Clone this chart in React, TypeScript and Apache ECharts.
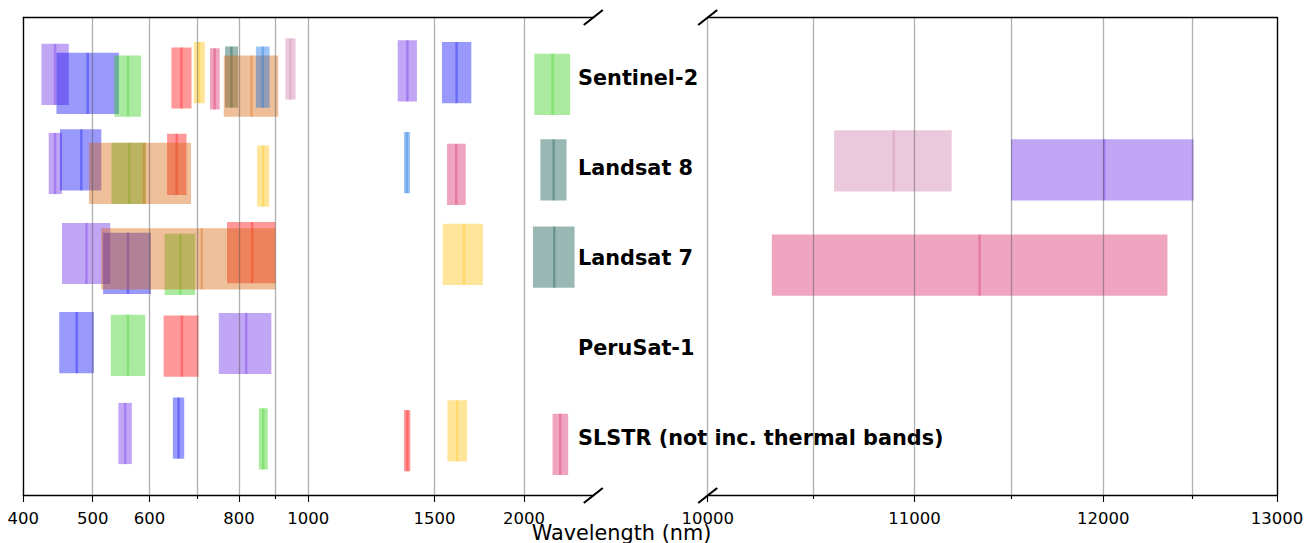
import React, { useEffect, useRef } from "react";
import * as echarts from "echarts";

// Row names (top to bottom)
const SATELLITES = ["Sentinel-2", "Landsat 8", "Landsat 7", "PeruSat-1", "SLSTR (not inc. thermal bands)"];
const ROW_POSITIONS = [0, 1, 2, 3, 4];

// Each band: [lower wavelength nm, upper wavelength nm, centre wavelength nm, vertical position (row units)]
const SENTINEL2 = [
  [424, 463, 443, -0.04],
  [445, 544, 492, 0.06],
  [536, 584, 560, 0.09],
  [644, 687, 665, 0.0],
  [692, 717, 704, -0.06],
  [729, 752, 740, 0.01],
  [765, 798, 781, -0.01],
  [762, 908, 833, 0.09],
  [845, 883, 864, -0.01],
  [929, 960, 944, -0.1],
  [1333, 1418, 1375, -0.08],
  [1537, 1689, 1611, -0.06],
  [2068, 2321, 2193, 0.07],
];
const SENTINEL2_COLORS = [0, 1, 2, 3, 4, 5, 6, 7, 8, 9, 0, 1, 2];

const LANDSAT8 = [
  [434, 453, 443, 0.95],
  [450, 514, 482, 0.91],
  [531, 593, 562, 1.06],
  [635, 676, 655, 0.96],
  [848, 882, 865, 1.09],
  [1562, 1659, 1609, 1.07],
  [2109, 2294, 2201, 1.02],
  [494, 686, 590, 1.06],
  [1360, 1387, 1373, 0.94],
];
const LANDSAT8_COLORS = [0, 1, 2, 3, 4, 5, 6, 7, 8];
const LANDSAT8_THERMAL = [
  [10600, 11190, 10895, 0.92],
  [11500, 12510, 12005, 1.02],
];
const LANDSAT8_THERMAL_COLORS = [9, 0];

const LANDSAT7 = [
  [453, 529, 490, 1.95],
  [517, 603, 560, 2.06],
  [630, 695, 663, 2.07],
  [770, 900, 835, 1.94],
  [1541, 1753, 1650, 1.96],
  [2059, 2354, 2205, 1.99],
  [514, 900, 710, 2.01],
];
const LANDSAT7_COLORS = [0, 1, 2, 3, 4, 6, 7];
const LANDSAT7_THERMAL = [[10300, 12360, 11335, 2.08]];
const LANDSAT7_THERMAL_COLORS = [5];

const PERUSAT1 = [
  [449, 502, 475, 2.94],
  [530, 592, 560, 2.97],
  [628, 703, 666, 2.98],
  [750, 888, 819, 2.95],
];
const PERUSAT1_COLORS = [1, 2, 3, 0];

const SLSTR = [
  [543, 567, 555, 3.95],
  [647, 671, 659, 3.89],
  [853, 878, 865, 4.01],
  [1360, 1388, 1375, 4.03],
  [1564, 1666, 1613, 3.92],
  [2193, 2306, 2248, 4.07],
];
const SLSTR_COLORS = [0, 1, 2, 3, 4, 5];

// Axes
const LEFT_RANGE = [400, 2500];
const RIGHT_RANGE = [10000, 13000];
const LEFT_MAJOR_TICKS = [400, 500, 600, 800, 1000, 1500, 2000];
const LEFT_MINOR_TICKS = [700, 900];
const RIGHT_MAJOR_TICKS = [10000, 11000, 12000, 13000];
const RIGHT_MINOR_TICKS = [10500, 11500, 12500];
const Y_RANGE = [-0.672, 4.639];
const LABEL_WAVELENGTH = 2380;

// Styles
const PALETTE = [
  "#6420e6", "#0000f5", "#2dcd0f", "#ff0000", "#ffbf00",
  "#d81b60", "#004d40", "#d55e00", "#0a6ee1", "#cc79a7",
];
const BAND_HEIGHT = 0.68;
const FONT = "DejaVu Sans";
const GRID_COLOR = "rgba(80,80,80,0.45)";

function withColors(bands: number[][], colors: number[]) {
  return bands.map((b, i) => [b[0], b[1], b[2], b[3], colors[i]]);
}

const LEFT_DATA = [
  ...withColors(SENTINEL2, SENTINEL2_COLORS),
  ...withColors(LANDSAT8, LANDSAT8_COLORS),
  ...withColors(LANDSAT7, LANDSAT7_COLORS),
  ...withColors(PERUSAT1, PERUSAT1_COLORS),
  ...withColors(SLSTR, SLSTR_COLORS),
];
const RIGHT_DATA = [
  ...withColors(LANDSAT8_THERMAL, LANDSAT8_THERMAL_COLORS),
  ...withColors(LANDSAT7_THERMAL, LANDSAT7_THERMAL_COLORS),
];

function renderBand(params: any, api: any) {
  const lo = api.value(0);
  const hi = api.value(1);
  const c = api.value(2);
  const y = api.value(3);
  const col = PALETTE[api.value(4)];
  const p0 = api.coord([lo, y - BAND_HEIGHT / 2]);
  const p1 = api.coord([hi, y + BAND_HEIGHT / 2]);
  const c0 = api.coord([c, y - BAND_HEIGHT / 2]);
  const c1 = api.coord([c, y + BAND_HEIGHT / 2]);
  return {
    type: "group",
    children: [
      {
        type: "rect",
        shape: {
          x: Math.min(p0[0], p1[0]),
          y: Math.min(p0[1], p1[1]),
          width: Math.abs(p1[0] - p0[0]),
          height: Math.abs(p1[1] - p0[1]),
        },
        style: { fill: col, opacity: 0.4 },
      },
      {
        type: "line",
        shape: { x1: c0[0], y1: c0[1], x2: c1[0], y2: c1[1] },
        style: { stroke: col, lineWidth: 2.5, opacity: 0.3 },
      },
    ],
  };
}

function renderRowLabel(params: any, api: any) {
  const p = api.coord([api.value(0), api.value(1)]);
  return {
    type: "text",
    x: p[0],
    y: p[1],
    style: {
      text: SATELLITES[params.dataIndex],
      fill: "#000",
      font: `bold 20.8px "${FONT}"`,
      align: "left",
      verticalAlign: "middle",
    },
  };
}

function bottomMajorAxis(gridIndex: number, range: number[], ticks: number[]) {
  return {
    gridIndex,
    type: "log",
    logBase: 10,
    min: range[0],
    max: range[1],
    position: "bottom",
    z: 10,
    axisLine: { show: true, onZero: false, lineStyle: { color: "#000", width: 1.3 } },
    axisTick: { show: true, customValues: ticks, length: 6.5, lineStyle: { color: "#000", width: 1.1 } },
    axisLabel: {
      show: true,
      customValues: ticks,
      formatter: (v: number) => String(Math.round(v)),
      fontFamily: FONT,
      fontSize: 16.5,
      color: "#000",
      margin: 14,
      showMinLabel: true,
      showMaxLabel: true,
    },
    splitLine: { show: true, lineStyle: { color: GRID_COLOR, width: 1.3 } },
    minorTick: { show: false },
    minorSplitLine: { show: false },
  };
}

function bottomMinorAxis(gridIndex: number, range: number[], ticks: number[]) {
  return {
    gridIndex,
    type: "log",
    logBase: 10,
    min: range[0],
    max: range[1],
    position: "bottom",
    z: 10,
    axisLine: { show: false, onZero: false },
    axisTick: { show: true, customValues: ticks, length: 3.5, lineStyle: { color: "#000", width: 1.1 } },
    axisLabel: { show: false, customValues: ticks },
    splitLine: { show: true, lineStyle: { color: GRID_COLOR, width: 1.3 } },
    minorTick: { show: false },
    minorSplitLine: { show: false },
  };
}

function topAxis(gridIndex: number) {
  return {
    gridIndex,
    type: "value",
    min: 0,
    max: 1,
    position: "top",
    z: 10,
    axisLine: { show: true, onZero: false, lineStyle: { color: "#000", width: 1.3 } },
    axisTick: { show: false },
    axisLabel: { show: false },
    splitLine: { show: false },
  };
}

function sideAxis(gridIndex: number, position: string) {
  return {
    gridIndex,
    type: "value",
    min: Y_RANGE[0],
    max: Y_RANGE[1],
    inverse: true,
    position,
    z: 10,
    axisLine: { show: true, onZero: false, lineStyle: { color: "#000", width: 1.3 } },
    axisTick: { show: false },
    axisLabel: { show: false },
    splitLine: { show: false },
  };
}

function breakMark(cx: number, cy: number) {
  return {
    type: "line",
    z: 100,
    shape: { x1: cx - 9.5, y1: cy + 7.5, x2: cx + 9.5, y2: cy - 7.5 },
    style: { stroke: "#000", lineWidth: 2.2 },
  };
}

export default function App() {
  const ref = useRef<HTMLDivElement>(null);

  useEffect(() => {
    if (!ref.current) return;
    const chart = echarts.init(ref.current, null, { renderer: "svg" });
    const option: any = {
      animation: false,
      backgroundColor: "#fff",
      textStyle: { fontFamily: FONT },
      grid: [
        { left: 23.3, top: 17.5, width: 570, height: 478, outerBoundsMode: "none", containLabel: false },
        { left: 707.7, top: 17.5, width: 569.3, height: 478, outerBoundsMode: "none", containLabel: false },
      ],
      xAxis: [
        bottomMajorAxis(0, LEFT_RANGE, LEFT_MAJOR_TICKS),
        bottomMinorAxis(0, LEFT_RANGE, LEFT_MINOR_TICKS),
        topAxis(0),
        bottomMajorAxis(1, RIGHT_RANGE, RIGHT_MAJOR_TICKS),
        bottomMinorAxis(1, RIGHT_RANGE, RIGHT_MINOR_TICKS),
        topAxis(1),
      ],
      yAxis: [sideAxis(0, "left"), sideAxis(1, "right")],
      series: [
        {
          type: "custom",
          xAxisIndex: 0,
          yAxisIndex: 0,
          renderItem: renderBand,
          encode: { x: [0, 1, 2], y: 3 },
          data: LEFT_DATA,
          silent: true,
        },
        {
          type: "custom",
          xAxisIndex: 3,
          yAxisIndex: 1,
          renderItem: renderBand,
          encode: { x: [0, 1, 2], y: 3 },
          data: RIGHT_DATA,
          silent: true,
        },
        {
          type: "custom",
          xAxisIndex: 0,
          yAxisIndex: 0,
          silent: true,
          clip: false,
          z: 5,
          renderItem: renderRowLabel,
          encode: { x: 0, y: 1 },
          data: SATELLITES.map((_, i) => [LABEL_WAVELENGTH, ROW_POSITIONS[i]]),
        },
      ],
      graphic: [
        breakMark(593.3, 17.5),
        breakMark(707.7, 17.5),
        breakMark(593.3, 495.5),
        breakMark(707.7, 495.5),
        {
          type: "text",
          z: 100,
          x: 621.5,
          y: 532.5,
          style: {
            text: "Wavelength (nm)",
            fontFamily: FONT,
            fontSize: 20.8,
            fill: "#000",
            align: "center",
            verticalAlign: "middle",
          },
        },
      ],
    };
    chart.setOption(option);
    return () => chart.dispose();
  }, []);

  return (
    <div
      ref={ref}
      style={{ position: "fixed", left: 0, top: 0, width: 1314, height: 543 }}
    />
  );
}
